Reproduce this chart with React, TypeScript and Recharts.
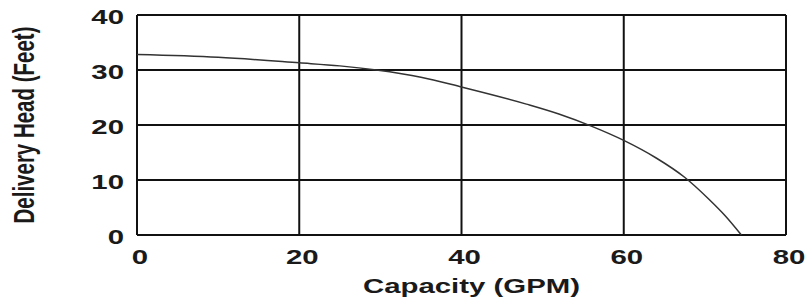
import React from "react";
import { LineChart, Line, XAxis, YAxis, CartesianGrid, Label } from "recharts";

const capacity = [0, 10, 20, 25, 29.5, 35, 40, 48, 52, 56, 60, 64, 67.5, 70.5, 72.5, 74.5];
const head = [32.8, 32.3, 31.3, 30.75, 30, 28.7, 26.9, 23.8, 22.0, 19.8, 17.2, 14.0, 10.5, 6.5, 3.5, 0];
const xTicks = [0, 20, 40, 60, 80];
const yTicks = [0, 10, 20, 30, 40];
const xTitle = "Capacity (GPM)";
const yTitle = "Delivery Head (Feet)";

const data = capacity.map((c, i) => ({ capacity: c, head: head[i] }));

const FONT = "'Liberation Sans', Arial, sans-serif";
const TEXT = "#1a1a1a";
const SX = 1.4;

const XTick = (props: any) => {
  const { x, y, payload } = props;
  return (
    <text
      transform={`translate(${x + 3},${y + 21}) scale(${SX},1)`}
      textAnchor="middle"
      fontFamily={FONT}
      fontWeight="bold"
      fontSize={21}
      fill={TEXT}
    >
      {payload.value}
    </text>
  );
};

const YTick = (props: any) => {
  const { x, y, payload } = props;
  return (
    <text
      transform={`translate(${x - 5},${y + 8.5}) scale(${SX},1)`}
      textAnchor="end"
      fontFamily={FONT}
      fontWeight="bold"
      fontSize={21}
      fill={TEXT}
    >
      {payload.value}
    </text>
  );
};

const XTitle = (props: any) => {
  const vb = props.viewBox;
  return (
    <text
      transform={`translate(${vb.x + vb.width / 2 + 10},${vb.y + 58}) scale(${SX},1)`}
      textAnchor="middle"
      fontFamily={FONT}
      fontWeight="bold"
      fontSize={21}
      fill={TEXT}
    >
      {xTitle}
    </text>
  );
};

const YTitle = (props: any) => {
  const vb = props.viewBox;
  return (
    <text
      transform={`translate(${vb.x + 34},${vb.y + vb.height / 2}) scale(1.45,1) rotate(-90)`}
      textAnchor="middle"
      fontFamily={FONT}
      fontWeight="bold"
      fontSize={20.5}
      fill={TEXT}
    >
      {yTitle}
    </text>
  );
};

export default function App() {
  return (
    <div style={{ position: "absolute", left: 0, top: 0, background: "#fff" }}>
      <LineChart
        width={812}
        height={300}
        data={data}
        margin={{ top: 15, right: 26, bottom: 15, left: 0 }}
      >
        <CartesianGrid stroke="#111" strokeWidth={2} horizontal vertical />
        <XAxis
          dataKey="capacity"
          type="number"
          domain={[0, 80]}
          ticks={xTicks}
          axisLine={false}
          tickLine={false}
          height={50}
          tick={<XTick />}
          interval={0}
        >
          <Label content={<XTitle />} />
        </XAxis>
        <YAxis
          type="number"
          domain={[0, 40]}
          ticks={yTicks}
          axisLine={false}
          tickLine={false}
          width={137}
          tick={<YTick />}
          interval={0}
        >
          <Label content={<YTitle />} />
        </YAxis>
        <Line
          dataKey="head"
          type="monotone"
          stroke="#333"
          strokeWidth={1.5}
          dot={false}
          isAnimationActive={false}
        />
      </LineChart>
    </div>
  );
}
